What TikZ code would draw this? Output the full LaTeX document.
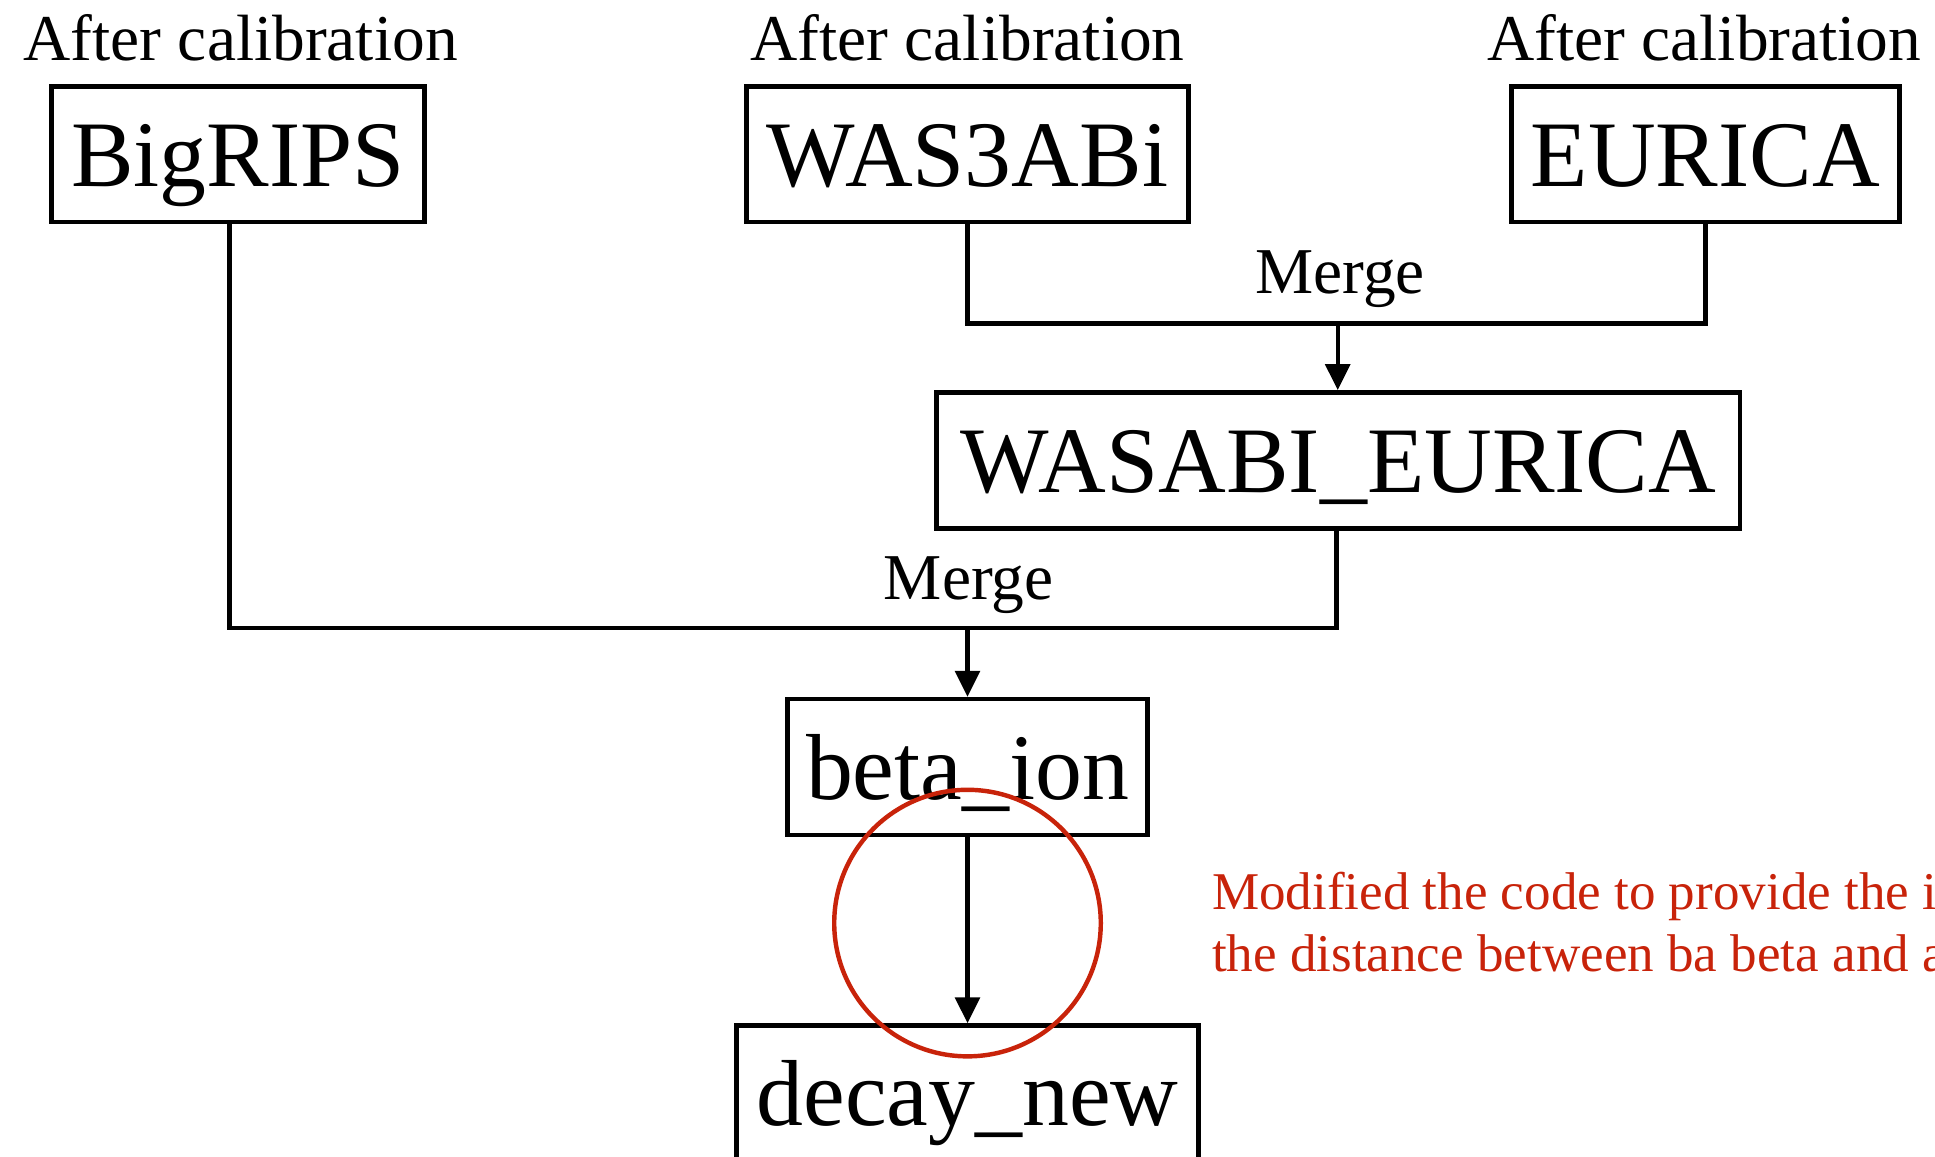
\documentclass[tikz,border=0pt]{standalone}
\usepackage{fontspec}
\setmainfont{Liberation Serif}
\usetikzlibrary{arrows.meta}
\definecolor{remark}{RGB}{200,35,10}
\begin{document}
\begin{tikzpicture}[x=1pt,y=-1pt,
 box/.style={draw,line width=3.8pt,inner sep=0pt,minimum height=110pt,text height=52pt,text depth=0pt,font=\fontsize{76}{90}\selectfont},
 lbl/.style={anchor=base,inner sep=0pt,font=\fontsize{53}{64}\selectfont},
 conn/.style={line width=3.8pt},
 arr/.style={line width=3.3pt,-{Triangle[length=21pt,width=20pt]}},
 note/.style={anchor=base west,inner sep=0pt,text=remark,font=\fontsize{43}{50}\selectfont}]
\useasboundingbox (0,0) rectangle (1568,937);
\clip (0,0) rectangle (1568,937);
% labels
\node[lbl] (c1) at (195,49) {After calibration};
\node[lbl] (c2) at (784,49) {After calibration};
\node[lbl] (c3) at (1381,49) {After calibration};
% boxes
\node[box,minimum width=302pt] (big) at (193,125) {BigRIPS};
\node[box,minimum width=358pt] (was) at (784,125) {WAS3ABi};
\node[box,minimum width=314pt] (eur) at (1382,125) {EURICA};
\node[box,minimum width=651pt] (we) at (1084.5,373) {WASABI\_EURICA};
\node[box,minimum width=292pt] (bi) at (784,621.5) {beta\_ion};
\node[box,minimum width=374pt] (dn) at (784,886) {decay\_new};
% merge points
\coordinate (m1) at (1084,262);
\coordinate (m2) at (784,509);
\node[lbl] (mg1) at (1086,238) {Merge};
\node[lbl] (mg2) at (785,486) {Merge};
% connectors
\draw[conn] (was.south) |- (m1) -| (eur.south);
\draw[arr] (m1) -- (m1 |- we.north);
\draw[conn] ([xshift=-7pt]big.south) |- (m2) -| ([xshift=-1.5pt]we.south);
\draw[arr] (m2) -- (bi.north);
\draw[arr] (bi.south) -- (dn.north);
% remark
\draw[remark,line width=3.6pt] (784,748) circle[radius=108pt];
\node[note] (n1) at (982,737) {Modified the code to provide the i};
\node[note] (n2) at (982,787) {the distance between ba beta and a};
\end{tikzpicture}
\end{document}
